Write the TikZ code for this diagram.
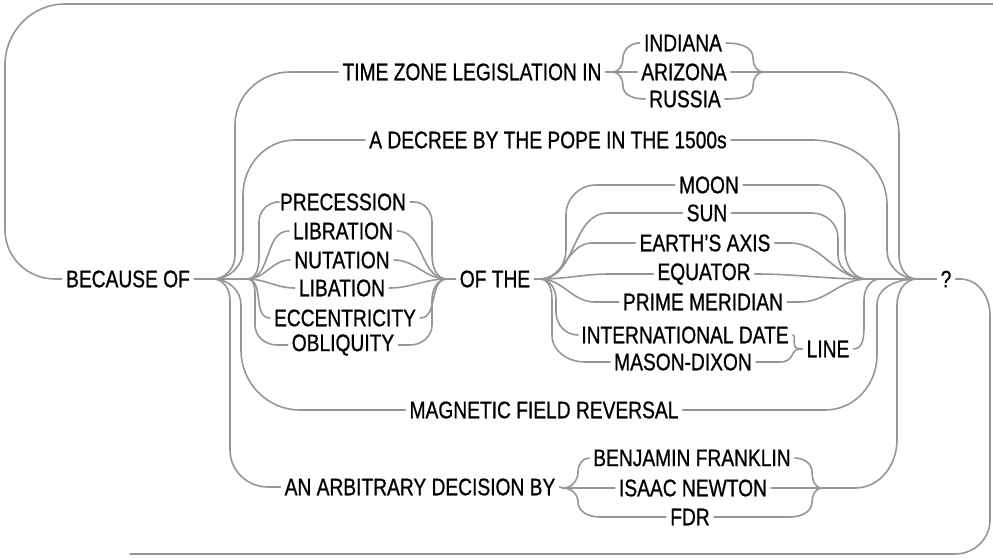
\documentclass[tikz,border=0pt]{standalone}
\usepackage{fontspec}
\setmainfont{Liberation Sans}[FakeStretch=0.8,FakeBold=0.8]
\definecolor{lc}{RGB}{150,150,150}
\tikzset{
  lbl/.style={inner xsep=4pt, inner ysep=1pt, font=\fontsize{24}{26}\selectfont, text=black},
  wire/.style={draw=lc, line width=1.6pt, line cap=round, line join=round},
}
\begin{document}
\begin{tikzpicture}[x=1pt,y=-1pt]
\useasboundingbox (0,0) rectangle (993,557);
% nodes
\node[lbl] (bec) at (128,279) {BECAUSE OF};
\node[lbl] (tz) at (472,72) {TIME ZONE LEGISLATION IN};
\node[lbl] (ind) at (683,43) {INDIANA};
\node[lbl] (ari) at (684,72) {ARIZONA};
\node[lbl] (rus) at (685,99) {RUSSIA};
\node[lbl] (dec) at (548,140) {A DECREE BY THE POPE IN THE 1500s};
\node[lbl] (prec) at (343,202) {PRECESSION};
\node[lbl] (libr) at (343,231) {LIBRATION};
\node[lbl] (nut) at (342,260) {NUTATION};
\node[lbl] (liba) at (342,288) {LIBATION};
\node[lbl] (ecc) at (345,318) {ECCENTRICITY};
\node[lbl] (obl) at (343,345) {OBLIQUITY};
\node[lbl] (ofthe) at (495,279) {OF THE};
\node[lbl] (moon) at (709,185) {MOON};
\node[lbl] (sun) at (707,213) {SUN};
\node[lbl] (axis) at (705,243) {EARTH’S AXIS};
\node[lbl] (equ) at (704,274) {EQUATOR};
\node[lbl] (prime) at (703,302) {PRIME MERIDIAN};
\node[lbl] (intl) at (685,335) {INTERNATIONAL DATE};
\node[lbl] (mason) at (683,362) {MASON-DIXON};
\node[lbl] (line) at (828,349) {LINE};
\node[lbl] (mag) at (544,410) {MAGNETIC FIELD REVERSAL};
\node[lbl] (arb) at (420,487) {AN ARBITRARY DECISION BY};
\node[lbl] (ben) at (692,458) {BENJAMIN FRANKLIN};
\node[lbl] (isaac) at (693,488) {ISAAC NEWTON};
\node[lbl] (fdr) at (690,517) {FDR};
\node[lbl] (q) at (946,279) {?};
% junctions
\coordinate (J1) at (213,279);
\coordinate (J2) at (247,279);
\coordinate (J3) at (447,279);
\coordinate (J4) at (540,279);
\coordinate (J5) at (867,279);
\coordinate (J5b) at (880,279);
\coordinate (J6) at (917,279);
\coordinate (Jtz1) at (613,72);
\coordinate (Jtz2) at (763,72);
\coordinate (Jab1) at (563,488);
\coordinate (Jab2) at (822,488);
\coordinate (Jline) at (800,349);
\coordinate (topend) at (993,4);
\coordinate (botend) at (130,554);
% outer loop
\draw[wire] (bec.west) -- (55,279) to[out=180,in=-90] (5,230) -- (5,65) to[out=90,in=180] (65,4) -- (topend);
\draw[wire] (q.east) -- (960,279) to[out=0,in=90] (990,315) -- (990,520) to[out=-90,in=0] (955,554) -- (botend);
% left trunk
\draw[wire] (bec.east) -- (J1) -- (J2);
\draw[wire] (J1) to[out=0,in=-90] (235,255) -- (235,125) to[out=90,in=180] (290,72) -- (tz.west);
\draw[wire] (J1) to[out=0,in=-90] (243,250) -- (243,195) to[out=90,in=180] (295,140) -- (dec.west);
\draw[wire] (J1) to[out=0,in=90] (241,305) -- (241,350) to[out=-90,in=180] (300,410) -- (mag.west);
\draw[wire] (J1) to[out=0,in=90] (230,300) -- (230,450) to[out=-90,in=180] (268,487) -- (arb.west);
% six-item fan
\draw[wire] (J2) to[out=0,in=-90] (259,258) -- (259,222) to[out=90,in=180] (279,202) -- (prec.west);
\draw[wire] (J2) to[out=0,in=180] (libr.west);
\draw[wire] (J2) to[out=0,in=180] (nut.west);
\draw[wire] (J2) to[out=0,in=180] (liba.west);
\draw[wire] (J2) to[out=0,in=180] (ecc.west);
\draw[wire] (J2) to[out=0,in=90] (255,300) -- (255,325) to[out=-90,in=180] (277,345) -- (obl.west);
\draw[wire] (prec.east) -- (414,202) to[out=0,in=90] (432,222) -- (432,255) to[out=-90,in=180] (J3);
\draw[wire] (libr.east) to[out=0,in=180] (J3);
\draw[wire] (nut.east) to[out=0,in=180] (J3);
\draw[wire] (liba.east) to[out=0,in=180] (J3);
\draw[wire] (ecc.east) to[out=0,in=180] (J3);
\draw[wire] (obl.east) -- (410,345) to[out=0,in=-90] (432,325) -- (432,300) to[out=90,in=180] (J3);
\draw[wire] (J3) -- (ofthe.west);
\draw[wire] (ofthe.east) -- (J4);
% OF THE fan
\draw[wire] (J4) to[out=0,in=-90] (566,250) -- (566,215) to[out=90,in=180] (596,185) -- (moon.west);
\draw[wire] (J4) to[out=0,in=180] (608,213) -- (sun.west);
\draw[wire] (J4) to[out=0,in=180] (592,243) -- (axis.west);
\draw[wire] (J4) to[out=0,in=180] (610,274) -- (equ.west);
\draw[wire] (J4) to[out=0,in=180] (595,302) -- (prime.west);
\draw[wire] (J4) to[out=0,in=90] (556,300) -- (556,312) to[out=-90,in=180] (578,335) -- (intl.west);
\draw[wire] (J4) to[out=0,in=90] (552,300) -- (552,335) to[out=-90,in=180] (585,362) -- (mason.west);
\draw[wire] (moon.east) -- (818,185) to[out=0,in=90] (845,215) -- (845,250) to[out=-90,in=180] (J5);
\draw[wire] (sun.east) -- (812,213) to[out=0,in=90] (838,238) -- (838,255) to[out=-90,in=180] (J5);
\draw[wire] (axis.east) -- (790,243) to[out=0,in=180] (J5);
\draw[wire] (equ.east) to[out=0,in=180] (J5);
\draw[wire] (prime.east) -- (800,302) to[out=0,in=180] (J5);
\draw[wire] (intl.east) .. controls (797,335) and (790,349) .. (Jline);
\draw[wire] (mason.east) -- (780,362) .. controls (795,362) and (790,349) .. (Jline);
\draw[wire] (Jline) -- (line.west);
\draw[wire] (line.east) to[out=0,in=-90] (864,325) -- (864,300) to[out=90,in=180] (J5b);
% time zone brace
\draw[wire] (tz.east) -- (Jtz1);
\draw[wire] (Jtz1) to[out=0,in=-90] (623,58) to[out=90,in=180] (ind.west);
\draw[wire] (Jtz1) -- (ari.west);
\draw[wire] (Jtz1) to[out=0,in=90] (623,86) to[out=-90,in=180] (rus.west);
\draw[wire] (ind.east) to[out=0,in=90] (753,58) to[out=-90,in=180] (Jtz2);
\draw[wire] (ari.east) -- (Jtz2);
\draw[wire] (rus.east) to[out=0,in=-90] (753,86) to[out=90,in=180] (Jtz2);
% arbitrary decision brace
\draw[wire] (arb.east) -- (Jab1);
\draw[wire] (Jab1) to[out=0,in=-90] (578,472) to[out=90,in=180] (ben.west);
\draw[wire] (Jab1) -- (isaac.west);
\draw[wire] (Jab1) to[out=0,in=90] (578,502) to[out=-90,in=180] (600,517) -- (fdr.west);
\draw[wire] (ben.east) to[out=0,in=90] (812,472) to[out=-90,in=180] (Jab2);
\draw[wire] (isaac.east) -- (Jab2);
\draw[wire] (fdr.east) -- (790,517) to[out=0,in=-90] (812,502) to[out=90,in=180] (Jab2);
% into the question mark
\draw[wire] (J5) -- (J6) -- (q.west);
\draw[wire] (Jtz2) -- (840,72) to[out=0,in=90] (899,135) -- (899,255) to[out=-90,in=180] (J6);
\draw[wire] (dec.east) -- (812,140) to[out=0,in=90] (887,205) -- (887,250) to[out=-90,in=180] (J6);
\draw[wire] (mag.east) -- (825,410) to[out=0,in=-90] (877,355) -- (877,305) to[out=90,in=180] (J6);
\draw[wire] (Jab2) -- (855,488) to[out=0,in=-90] (897,440) -- (897,305) to[out=90,in=180] (J6);
\end{tikzpicture}
\end{document}
